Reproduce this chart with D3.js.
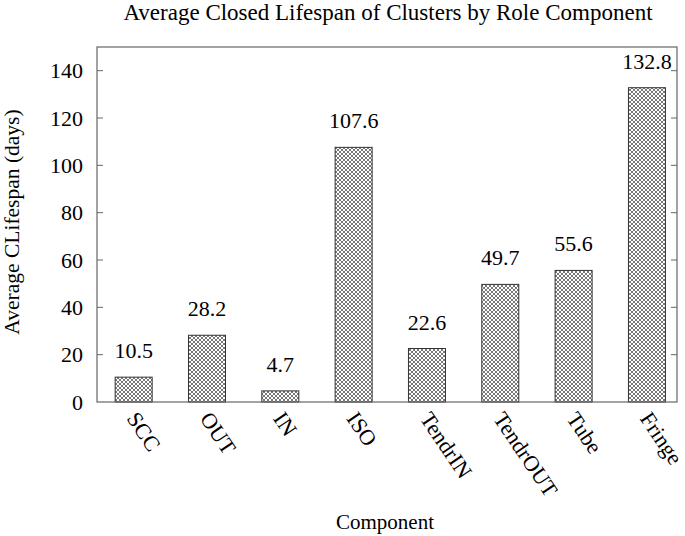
<!DOCTYPE html>
<html>
<head>
<meta charset="utf-8">
<script src="https://cdn.jsdelivr.net/npm/d3@7"></script>
<style>
  body { margin: 0; background: #fff; }
</style>
</head>
<body>
<svg id="chart" width="685" height="536"></svg>
<script>
const components = ['SCC', 'OUT', 'IN', 'ISO', 'TendrIN', 'TendrOUT', 'Tube', 'Fringe']
const lifespans = [10.5, 28.2, 4.7, 107.6, 22.6, 49.7, 55.6, 132.8]
const yTicks = [0, 20, 40, 60, 80, 100, 120, 140]

const data = components.map((c, i) => ({component: c, days: lifespans[i], idx: i}))
const serif = '"Liberation Serif", "Times New Roman", Times, serif'

const svg = d3.select('#chart')
const plotLeft = 97, plotRight = 677, plotTop = 47, plotBottom = 402

// cross hatch fill like gnuplot pattern
const defs = svg.append('defs')
const pat = defs.append('pattern')
  .attr('id', 'hatch')
  .attr('patternUnits', 'userSpaceOnUse')
  .attr('width', 4)
  .attr('height', 4)
pat.append('rect').attr('width', 4).attr('height', 4).attr('fill', '#fff')
pat.append('path')
  .attr('d', 'M0,0 L4,4 M4,0 L0,4 M-1,3 L1,5 M3,-1 L5,1 M3,5 L5,3 M-1,1 L1,-1')
  .attr('stroke', '#555')
  .attr('stroke-width', 0.8)

const x = d3.scaleLinear().domain([-0.5, 7.41]).range([plotLeft, plotRight])
const y = d3.scaleLinear().domain([0, 150]).range([plotBottom, plotTop])
const barW = 37

// y ticks, inward on both sides
const yAxisL = d3.axisLeft(y).tickValues(yTicks).tickSize(0).tickPadding(14)
const gy = svg.append('g').attr('transform', `translate(${plotLeft},0)`).call(yAxisL)
gy.attr('font-family', null).attr('font-size', null)
gy.select('.domain').remove()
gy.selectAll('text')
  .style('font-size', '22px')
  .style('font-family', serif)
  .attr('fill', '#000')

svg.append('g').selectAll('line')
  .data(yTicks.slice(1))
  .join('line')
  .attr('x1', plotLeft).attr('x2', plotLeft + 6)
  .attr('y1', d => y(d)).attr('y2', d => y(d))
  .attr('stroke', '#666')
svg.append('g').selectAll('line')
  .data(yTicks.slice(1))
  .join('line')
  .attr('x1', plotRight).attr('x2', plotRight - 6)
  .attr('y1', d => y(d)).attr('y2', d => y(d))
  .attr('stroke', '#666')

// bars
svg.append('g').selectAll('rect')
  .data(data)
  .join('rect')
  .attr('x', d => x(d.idx) - barW / 2)
  .attr('y', d => y(d.days))
  .attr('width', barW)
  .attr('height', d => y(0) - y(d.days))
  .attr('fill', 'url(#hatch)')
  .attr('stroke', '#333')
  .attr('stroke-width', 1)

// value labels
svg.append('g').selectAll('text')
  .data(data)
  .join('text')
  .attr('x', d => x(d.idx))
  .attr('y', d => y(d.days) - 19)
  .attr('text-anchor', 'middle')
  .style('font-family', serif)
  .style('font-size', '22px')
  .text(d => d.days.toFixed(1))

// frame
svg.append('rect')
  .attr('x', plotLeft).attr('y', plotTop)
  .attr('width', plotRight - plotLeft).attr('height', plotBottom - plotTop)
  .attr('fill', 'none')
  .attr('stroke', '#666')
  .attr('stroke-width', 1.2)

// rotated category labels
svg.append('g').selectAll('text')
  .data(data)
  .join('text')
  .attr('transform', d => `translate(${x(d.idx) + 5},${plotBottom + 8}) rotate(56)`)
  .attr('text-anchor', 'start')
  .attr('dy', '0.7em')
  .style('font-family', serif)
  .style('font-size', '22px')
  .text(d => d.component)

svg.append('text')
  .attr('x', 388)
  .attr('y', 20)
  .attr('text-anchor', 'middle')
  .style('font-family', serif)
  .style('font-size', '23px')
  .text('Average Closed Lifespan of Clusters by Role Component')

svg.append('text')
  .attr('x', 385)
  .attr('y', 529)
  .attr('text-anchor', 'middle')
  .style('font-family', serif)
  .style('font-size', '21px')
  .text('Component')

svg.append('text')
  .attr('transform', `translate(19,222) rotate(-90)`)
  .attr('text-anchor', 'middle')
  .style('font-family', serif)
  .style('font-size', '21.5px')
  .text('Average CLifespan (days)')
</script>
</body>
</html>
